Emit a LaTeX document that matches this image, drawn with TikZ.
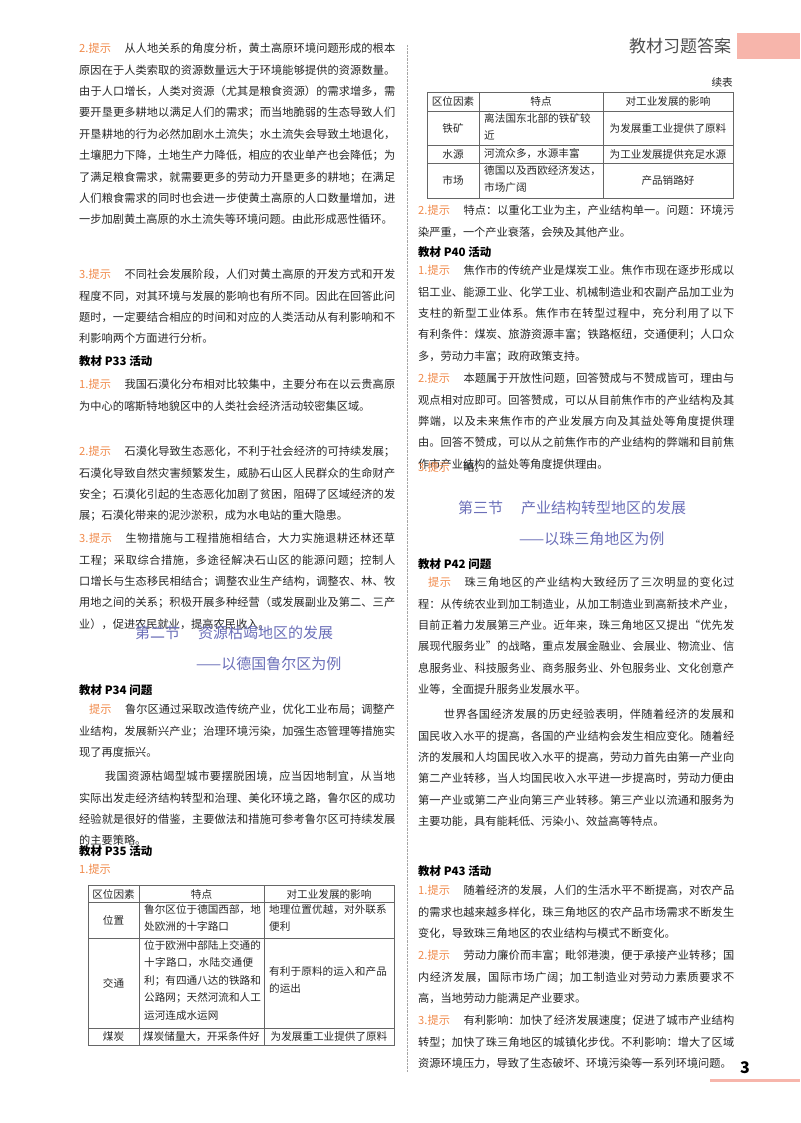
\documentclass[tikz,border=0pt]{standalone}
\usepackage{fontspec}
\setmainfont{Noto Sans CJK SC}
\XeTeXlinebreaklocale "zh"
\XeTeXlinebreakskip=0pt plus 1pt
\usetikzlibrary{positioning}
\definecolor{tipc}{HTML}{F08A4B}
\definecolor{headc}{HTML}{6B6FB8}
\definecolor{pinkc}{HTML}{F7B5AB}
\newcommand{\tip}[1]{{\color{tipc}#1提示}\hspace{1.2em}}
\newcommand{\bodyfont}{\fontsize{11.2}{21.4}\selectfont}
\newcommand{\cellfont}{\fontsize{10.6}{17.5}\selectfont}

\begin{document}
\begin{tikzpicture}[x=1pt, y=-1pt, inner sep=0pt,
   para/.style={anchor=north west, text width=316pt, align=justify, font=\bodyfont, text=black!85},
   title/.style={anchor=north west, font=\bfseries\fontsize{11.5}{14}\selectfont},
   head/.style={font=\fontsize{15}{18}\selectfont, text=headc},
   cell/.style={font=\cellfont, align=center, text=black!85},
   cellw/.style={font=\cellfont, align=left, text=black!85, anchor=north west}]
   \useasboundingbox (0,0) rectangle (800,1123);
   % header
   \node[font=\fontsize{17}{20}\selectfont, text=black!70] (hdr) at (680,46) {教材习题答案};
   \fill[pinkc] (737,33) rectangle (800,59);
   \draw[black!35, densely dotted] (407,45) -- (407,1072);
   % left column
   \node[para] (tipL2) at (79,43) {\tip{2.}从人地关系的角度分析，黄土高原环境问题形成的根本原因在于人类索取的资源数量远大于环境能够提供的资源数量。由于人口增长，人类对资源（尤其是粮食资源）的需求增多，需要开垦更多耕地以满足人们的需求；而当地脆弱的生态导致人们开垦耕地的行为必然加剧水土流失；水土流失会导致土地退化，土壤肥力下降，土地生产力降低，相应的农业单产也会降低；为了满足粮食需求，就需要更多的劳动力开垦更多的耕地；在满足人们粮食需求的同时也会进一步使黄土高原的人口数量增加，进一步加剧黄土高原的水土流失等环境问题。由此形成恶性循环。};
   \node[para] (tipL3) at (79,269) {\tip{3.}不同社会发展阶段，人们对黄土高原的开发方式和开发程度不同，对其环境与发展的影响也有所不同。因此在回答此问题时，一定要结合相应的时间和对应的人类活动从有利影响和不利影响两个方面进行分析。};
   \node[title] (p33) at (79,355) {教材 P33 活动};
   \node[para] (p33a) at (79,379) {\tip{1.}我国石漠化分布相对比较集中，主要分布在以云贵高原为中心的喀斯特地貌区中的人类社会经济活动较密集区域。};
   \node[para] (p33b) at (79,446) {\tip{2.}石漠化导致生态恶化，不利于社会经济的可持续发展；石漠化导致自然灾害频繁发生，威胁石山区人民群众的生命财产安全；石漠化引起的生态恶化加剧了贫困，阻碍了区域经济的发展；石漠化带来的泥沙淤积，成为水电站的重大隐患。};
   \node[para] (p33c) at (79,533) {\tip{3.}生物措施与工程措施相结合，大力实施退耕还林还草工程；采取综合措施，多途径解决石山区的能源问题；控制人口增长与生态移民相结合；调整农业生产结构，调整农、林、牧用地之间的关系；积极开展多种经营（或发展副业及第二、三产业），促进农民就业，提高农民收入。};
   \node[head, anchor=west] (sec2) at (135,633) {第二节\hspace{1.2em}资源枯竭地区的发展};
   \node[head, anchor=west] (sec2b) at (196,664) {——以德国鲁尔区为例};
   \node[title] (p34) at (79,684) {教材 P34 问题};
   \node[para] (p34a) at (79,704) {\hspace*{10pt}{\color{tipc}提示}\hspace{1.2em}鲁尔区通过采取改造传统产业，优化工业布局；调整产业结构，发展新兴产业；治理环境污染，加强生态管理等措施实现了再度振兴。};
   \node[para] (p34b) at (79,771) {\hspace*{2.3em}我国资源枯竭型城市要摆脱困境，应当因地制宜，从当地实际出发走经济结构转型和治理、美化环境之路，鲁尔区的成功经验就是很好的借鉴，主要做法和措施可参考鲁尔区可持续发展的主要策略。};
   \node[title] (p35) at (79,845) {教材 P35 活动};
   \node[para] (p35a) at (79,864) {\tip{1.}};
   % left table
   \draw[black!60, thick] (88,885) rectangle (394,1045);
   \draw[black!60] (88,902) -- (394,902) (88,938) -- (394,938) (88,1028) -- (394,1028)
                   (139,885) -- (139,1045) (264,885) -- (264,1045);
   \node[cell] (lh1) at (113.5,894) {区位因素};
   \node[cell] (lh2) at (201.5,894) {特点};
   \node[cell] (lh3) at (329,894) {对工业发展的影响};
   \node[cell] (lr1) at (113.5,920) {位置};
   \node[cellw, text width=117pt] (lr1b) at (144,904) {鲁尔区位于德国西部，地处欧洲的十字路口};
   \node[cellw, text width=120pt] (lr1c) at (269,904) {地理位置优越，对外联系便利};
   \node[cell] (lr2) at (113.5,983) {交通};
   \node[cellw, text width=117pt] (lr2b) at (144,940) {位于欧洲中部陆上交通的十字路口，水陆交通便利；有四通八达的铁路和公路网；天然河流和人工运河连成水运网};
   \node[cellw, text width=120pt] (lr2c) at (269,966) {有利于原料的运入和产品的运出};
   \node[cell] (lr3) at (113.5,1036.5) {煤炭};
   \node[cell] (lr3b) at (201.5,1036.5) {煤炭储量大，开采条件好};
   \node[cell] (lr3c) at (329,1036.5) {为发展重工业提供了原料};
   % right column
   \node[cell, anchor=east] (xb) at (733,82) {续表};
   \draw[black!60, thick] (427,92) rectangle (733,198);
   \draw[black!60] (427,111) -- (733,111) (427,145) -- (733,145) (427,163) -- (733,163)
                   (479,92) -- (479,198) (603,92) -- (603,198);
   \node[cell] (rh1) at (453,101.5) {区位因素};
   \node[cell] (rh2) at (541,101.5) {特点};
   \node[cell] (rh3) at (668,101.5) {对工业发展的影响};
   \node[cell] (rr1) at (453,128) {铁矿};
   \node[cellw, text width=108pt] (rr1b) at (484,113) {离法国东北部的铁矿较近};
   \node[cell] (rr1c) at (668,128) {为发展重工业提供了原料};
   \node[cell] (rr2) at (453,154) {水源};
   \node[cell, anchor=west] (rr2b) at (484,154) {河流众多，水源丰富};
   \node[cell] (rr2c) at (668,154) {为工业发展提供充足水源};
   \node[cell] (rr3) at (453,180.5) {市场};
   \node[cellw, text width=117pt] (rr3b) at (484,165) {德国以及西欧经济发达，市场广阔};
   \node[cell] (rr3c) at (668,180.5) {产品销路好};
   \node[para] (tipR2) at (418,205) {\tip{2.}特点：以重化工业为主，产业结构单一。问题：环境污染严重，一个产业衰落，会殃及其他产业。};
   \node[title] (p40) at (418,246) {教材 P40 活动};
   \node[para] (p40a) at (418,265) {\tip{1.}焦作市的传统产业是煤炭工业。焦作市现在逐步形成以铝工业、能源工业、化学工业、机械制造业和农副产品加工业为支柱的新型工业体系。焦作市在转型过程中，充分利用了以下有利条件：煤炭、旅游资源丰富；铁路枢纽，交通便利；人口众多，劳动力丰富；政府政策支持。};
   \node[para] (p40b) at (418,373) {\tip{2.}本题属于开放性问题，回答赞成与不赞成皆可，理由与观点相对应即可。回答赞成，可以从目前焦作市的产业结构及其弊端，以及未来焦作市的产业发展方向及其益处等角度提供理由。回答不赞成，可以从之前焦作市的产业结构的弊端和目前焦作市产业结构的益处等角度提供理由。};
   \node[para] (p40c) at (418,462) {\tip{3.}略。};
   \node[head, anchor=west] (sec3) at (458,508) {第三节\hspace{1.2em}产业结构转型地区的发展};
   \node[head, anchor=west] (sec3b) at (519,539) {——以珠三角地区为例};
   \node[title] (p42) at (418,558) {教材 P42 问题};
   \node[para] (p42a) at (418,577) {\hspace*{10pt}{\color{tipc}提示}\hspace{1.2em}珠三角地区的产业结构大致经历了三次明显的变化过程：从传统农业到加工制造业，从加工制造业到高新技术产业，目前正着力发展第三产业。近年来，珠三角地区又提出“优先发展现代服务业”的战略，重点发展金融业、会展业、物流业、信息服务业、科技服务业、商务服务业、外包服务业、文化创意产业等，全面提升服务业发展水平。};
   \node[para] (p42b) at (418,709) {\hspace*{2.3em}世界各国经济发展的历史经验表明，伴随着经济的发展和国民收入水平的提高，各国的产业结构会发生相应变化。随着经济的发展和人均国民收入水平的提高，劳动力首先由第一产业向第二产业转移，当人均国民收入水平进一步提高时，劳动力便由第一产业或第二产业向第三产业转移。第三产业以流通和服务为主要功能，具有能耗低、污染小、效益高等特点。};
   \node[title] (p43) at (418,865) {教材 P43 活动};
   \node[para] (p43a) at (418,885) {\tip{1.}随着经济的发展，人们的生活水平不断提高，对农产品的需求也越来越多样化，珠三角地区的农产品市场需求不断发生变化，导致珠三角地区的农业结构与模式不断变化。};
   \node[para] (p43b) at (418,950) {\tip{2.}劳动力廉价而丰富；毗邻港澳，便于承接产业转移；国内经济发展，国际市场广阔；加工制造业对劳动力素质要求不高，当地劳动力能满足产业要求。};
   \node[para] (p43c) at (418,1015) {\tip{3.}有利影响：加快了经济发展速度；促进了城市产业结构转型；加快了珠三角地区的城镇化步伐。不利影响：增大了区域资源环境压力，导致了生态破坏、环境污染等一系列环境问题。};
   % page number
   \node[font=\bfseries\fontsize{16}{18}\selectfont] (pg) at (745,1068) {3};
   \fill[pinkc] (710,1079) rectangle (800,1082);
\end{tikzpicture}
\end{document}
